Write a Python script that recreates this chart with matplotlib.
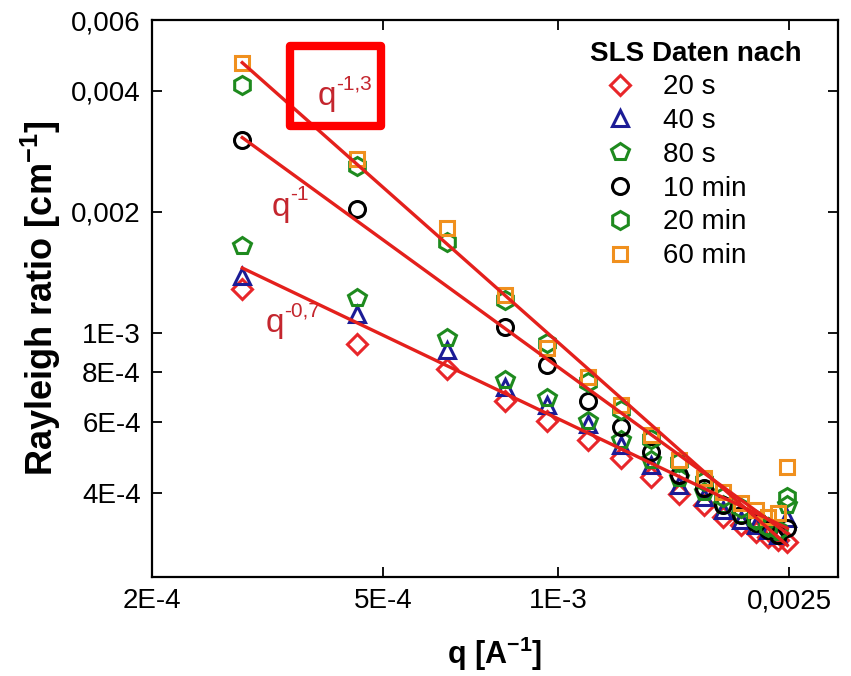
import matplotlib
matplotlib.use("Agg")
import matplotlib.pyplot as plt
import numpy as np
from matplotlib.patches import Rectangle
from matplotlib.ticker import FixedLocator, FixedFormatter, NullLocator

plt.rcParams['font.family'] = ['Liberation Sans', 'DejaVu Sans']
plt.rcParams['mathtext.fontset'] = 'custom'
plt.rcParams['mathtext.rm'] = 'Liberation Sans'
plt.rcParams['mathtext.it'] = 'Liberation Sans'
plt.rcParams['mathtext.bf'] = 'Liberation Sans:bold'

# q values [1/A]
q = [2.86e-4, 4.51e-4, 6.43e-4, 8.09e-4, 9.56e-4, 1.124e-3, 1.282e-3, 1.444e-3,
     1.614e-3, 1.782e-3, 1.922e-3, 2.064e-3, 2.19e-3, 2.30e-3, 2.39e-3, 2.48e-3]

# Rayleigh ratio [1/cm], values in units of 1e-3
r_20s = [1.286, 0.939, 0.814, 0.677, 0.604, 0.542, 0.489, 0.438,
         0.398, 0.373, 0.348, 0.333, 0.320, 0.311, 0.306, 0.302]
r_40s = [1.386, 1.115, 0.907, 0.734, 0.662, 0.594, 0.526, 0.469,
         0.419, 0.391, 0.363, 0.343, 0.333, 0.324, 0.315, 0.347]
r_80s = [1.646, 1.222, 0.972, 0.764, 0.689, 0.604, 0.542, 0.483,
         0.436, 0.402, 0.373, 0.353, 0.343, 0.329, 0.320, 0.373]
r_10min = [3.02, 2.035, np.nan, 1.035, 0.833, 0.677, 0.584, 0.506,
           0.443, 0.412, 0.373, 0.353, 0.337, 0.324, 0.315, 0.327]
r_20min = [4.14, 2.60, 1.684, 1.208, 0.944, 0.755, 0.643, 0.545,
           0.478, 0.428, 0.391, 0.367, 0.343, 0.329, 0.324, 0.391]
r_60min = [4.695, 2.71, 1.825, 1.243, 0.918, 0.777, 0.662, 0.558,
           0.483, 0.436, 0.402, 0.378, 0.363, 0.348, 0.357, 0.464]

labels = ['20 s', '40 s', '80 s', '10 min', '20 min', '60 min']
series = [r_20s, r_40s, r_80s, r_10min, r_20min, r_60min]
markers = ['D', '^', 'p', 'o', 'h', 's']
colors = ['#e8262a', '#1c1c96', '#1e8a1e', '#000000', '#1e8a1e', '#f0901e']
msizes = [10.5, 12, 13, 11.5, 13, 10]

# power-law fits: amplitude at q0, exponent
fit_q0 = 2.86e-4
fit_q1 = 2.48e-3
fit_amp = [4.70e-3, 3.06e-3, 1.45e-3]
fit_exp = [-1.28, -1.05, -0.69]
fit_text = ['-1,3', '-1', '-0,7']
# where the "q^n" labels sit (axes fraction, baseline)
fit_text_pos = [(0.242, 0.847), (0.175, 0.648), (0.165, 0.440)]

yticks = [4e-4, 6e-4, 8e-4, 1e-3, 2e-3, 4e-3, 6e-3]
yticklabels = ['4E-4', '6E-4', '8E-4', '1E-3', '0,002', '0,004', '0,006']
xticks = [2e-4, 5e-4, 1e-3, 2.5e-3]
xticklabels = ['2E-4', '5E-4', '1E-3', '0,0025']

fig = plt.figure(figsize=(8.51, 6.76), dpi=100)
ax = fig.add_axes([0.1786, 0.1464, 0.806, 0.824])
ax.set_xscale('log')
ax.set_yscale('log')

qq = np.array(q)
for vals, lab, m, c, ms in zip(series, labels, markers, colors, msizes):
    ax.plot(qq, np.array(vals) * 1e-3, linestyle='none', marker=m, ms=ms,
            mfc='none', mec=c, mew=2.2, label=lab, zorder=3)

qf = np.array([fit_q0, fit_q1])
for a, n in zip(fit_amp, fit_exp):
    ax.plot(qf, a * (qf / fit_q0) ** n, color='#e4201c', lw=2.4, zorder=4)

txt_color = '#c4262e'
for (tx, ty), ex in zip(fit_text_pos, fit_text):
    t = ax.text(tx, ty, 'q', transform=ax.transAxes, color=txt_color,
                fontsize=24, va='baseline', ha='left')
    ax.annotate(ex, xy=(1.0, 0.74), xycoords=t, color=txt_color,
                fontsize=15, va='baseline', ha='left')

box = Rectangle((0.3408, 0.8136), 0.1069, 0.1183, transform=fig.transFigure,
                fill=False, edgecolor='#ff0000', lw=6, joinstyle='round', zorder=5)
fig.patches.append(box)

ax.set_xlim(2e-4, 3.03e-3)
ax.set_ylim(2.47e-4, 6.0e-3)

ax.xaxis.set_major_locator(FixedLocator(xticks))
ax.xaxis.set_major_formatter(FixedFormatter(xticklabels))
ax.xaxis.set_minor_locator(NullLocator())
ax.yaxis.set_major_locator(FixedLocator(yticks))
ax.yaxis.set_major_formatter(FixedFormatter(yticklabels))
ax.yaxis.set_minor_locator(NullLocator())

ax.tick_params(which='major', direction='in', length=7, width=1.3,
               top=True, right=True, labelsize=20, pad=8)
for sp in ax.spines.values():
    sp.set_linewidth(1.6)

ax.set_xlabel(r'q [A$^{\mathbf{-1}}$]', fontsize=22, fontweight='bold', labelpad=15)
ax.set_ylabel(r'Rayleigh ratio [cm$^{\mathbf{-1}}$]', fontsize=26, fontweight='bold', labelpad=6)

leg = ax.legend(loc='upper left', bbox_to_anchor=(0.618, 0.988), frameon=False,
                title='SLS Daten nach', fontsize=20, borderpad=0, labelspacing=0.28,
                handletextpad=0.45, alignment='left', handlelength=2.2)
leg.get_title().set_fontweight('bold')
leg.get_title().set_fontsize(20)

fig.savefig('out.png', dpi=100)
